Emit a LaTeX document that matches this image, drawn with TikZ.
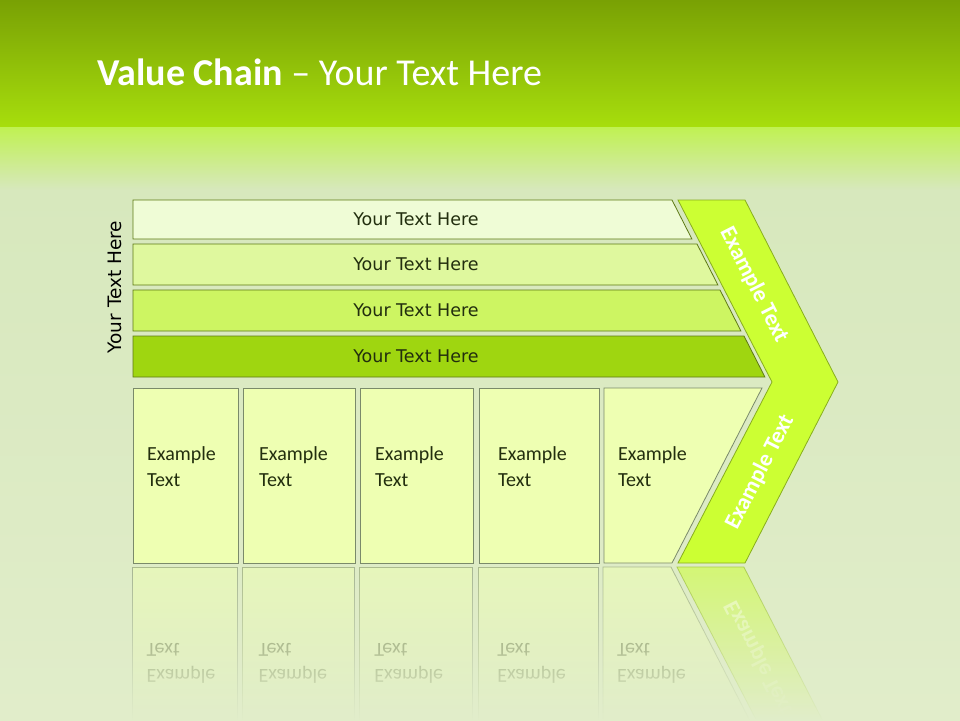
\documentclass[tikz,border=0pt]{standalone}
\usepackage{fontspec}
\setmainfont{Carlito}
\newfontfamily\tahoma{DejaVu Sans}
\usetikzlibrary{fadings}

\definecolor{verdeArriba}{HTML}{79A104}
\definecolor{verdeAbajo}{HTML}{A7DE0D}
\definecolor{franja}{HTML}{C0F152}
\definecolor{fondoA}{HTML}{D7E8BD}
\definecolor{fondoB}{HTML}{E1EDCA}
\definecolor{barraA}{HTML}{EFFCD6}
\definecolor{barraB}{HTML}{DFF89E}
\definecolor{barraC}{HTML}{CDF562}
\definecolor{barraD}{HTML}{9FD610}
\definecolor{bordeBarra}{HTML}{5E7A14}
\definecolor{rellenoCaja}{HTML}{EEFFB2}
\definecolor{bordeCaja}{HTML}{7A8A6A}
\definecolor{flecha}{HTML}{CCFF33}
\definecolor{bordeFlecha}{HTML}{88AE1E}
\definecolor{textoOscuro}{HTML}{222E0E}

\tikzfading[name=reflejo, top color=transparent!45, bottom color=transparent!100]

\tikzset{
  barra/.style={draw=bordeBarra, line width=0.8pt},
  caja/.style={draw=bordeCaja, fill=rellenoCaja, line width=0.8pt},
  txtbarra/.style={font=\tahoma\fontsize{17.5}{20}\selectfont, text=textoOscuro, inner sep=0pt},
  txtcaja/.style={font=\fontsize{20}{26}\selectfont, text=textoOscuro, align=left, inner sep=0pt, anchor=base west},
  txtflecha/.style={font=\bfseries\fontsize{23}{26}\selectfont, text=white, inner sep=0pt}
}

\begin{document}
\begin{tikzpicture}[x=1pt,y=-1pt]
\useasboundingbox (0,0) rectangle (960,720);
% Fondo
\shade[top color=verdeArriba, bottom color=verdeAbajo] (0,0) rectangle (960,127);
\shade[top color=franja, bottom color=fondoA] (0,127) rectangle (960,190);
\shade[top color=fondoA, bottom color=fondoB] (0,190) rectangle (960,720);
% Título
\node[anchor=base west, inner sep=0pt, text=white, font=\fontsize{38}{44}\selectfont] (titulo) at (97,85) {\textbf{Value Chain} – Your Text Here};
% Barras
\foreach \ya/\yb/\xa/\col [count=\i] in {200/239/672/barraA, 244/285/697/barraB, 290/331/720/barraC, 336/377/744/barraD} {
  \draw[barra, fill=\col] (133,\ya) -- (\xa,\ya) -- ({\xa+0.51*(\yb-\ya)},\yb) -- (133,\yb) -- cycle;
  \node[txtbarra] (barra\i) at (416,{(\ya+\yb)/2}) {Your Text Here};
}
% Etiqueta lateral
\node[txtbarra, rotate=90, text=black, font=\tahoma\fontsize{18.5}{20}\selectfont] (lateral) at (115,287) {Your Text Here};
% Flecha
\draw[fill=flecha, draw=bordeFlecha, line width=0.8pt] (678,200) -- (745,200) -- (838,382) -- (745,563) -- (678,563) -- (772,382) -- cycle;
\node[txtflecha, rotate=-63] (flechaA) at (754,285) {Example Text};
\node[txtflecha, rotate=63] (flechaB) at (760,472) {Example Text};
% Cajas
\foreach \xa/\xb/\xt [count=\i] in {133/238/147, 243/355/259, 360/473/375, 479/599/498} {
  \draw[caja] (\xa,388) rectangle (\xb,563);
  \node[txtcaja] (caja\i) at (\xt,486) {Example\\Text};
}
\draw[caja] (604,388) -- (762,388) -- (672,563) -- (604,563) -- cycle;
\node[txtcaja] (caja5) at (618,486) {Example\\Text};
% Reflejo
\begin{scope}
  \path[scope fading=reflejo, fit fading=true] (100,566) rectangle (860,720);
  \foreach \xa/\xb/\xt [count=\i] in {133/238/147, 243/355/259, 360/473/375, 479/599/498} {
    \draw[caja] (\xa,567) rectangle (\xb,745);
    \node[txtcaja, yscale=-1] (reflejo\i) at (\xt,644) {Example\\Text};
  }
  \draw[caja] (604,567) -- (672,567) -- (762,742) -- (604,742) -- cycle;
  \node[txtcaja, yscale=-1] (reflejo5) at (618,644) {Example\\Text};
  \draw[fill=flecha, draw=bordeFlecha, line width=0.8pt] (678,567) -- (745,567) -- (838,748) -- (772,748) -- cycle;
  \node[txtflecha, rotate=-63, yscale=-1] (reflejoFlecha) at (760,658) {Example Text};
\end{scope}
\end{tikzpicture}
\end{document}
